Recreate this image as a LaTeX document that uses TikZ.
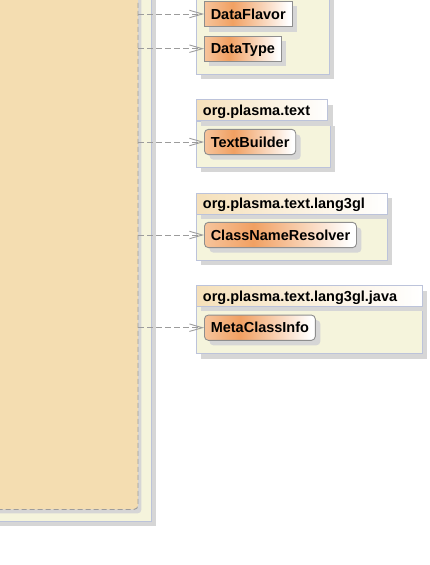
\documentclass[tikz,border=0pt]{standalone}
\usepackage{fontspec}
\setmainfont{Liberation Sans}
\usetikzlibrary{arrows.meta,shadows}
\definecolor{tanfill}{HTML}{F4DDB1}
\definecolor{pkgfill}{HTML}{F5F4DC}
\definecolor{pkgborder}{HTML}{BCC3DA}
\definecolor{shadowgray}{HTML}{D6D6D6}
\definecolor{dashgray}{HTML}{9C9C9C}
\definecolor{clsborder}{HTML}{8E8E8E}
\definecolor{clsA}{HTML}{F6C49C}
\definecolor{clsB}{HTML}{F1A062}
\definecolor{tabA}{HTML}{F5E0BA}
\pgfdeclarehorizontalshading{clsshade}{100bp}{color(0bp)=(clsA); color(25bp)=(clsA); color(41bp)=(clsB); color(73bp)=(white); color(100bp)=(white)}
\pgfdeclarehorizontalshading{tabshade}{100bp}{color(0bp)=(tabA); color(25bp)=(tabA); color(75bp)=(white); color(100bp)=(white)}
\tikzset{
  lbl/.style={font=\fontsize{14.5}{17}\selectfont\bfseries},
  shadowed/.style={general shadow={fill=shadowgray, shadow xshift=5pt, shadow yshift=-5pt}},
  clsbox/.style={lbl, shadowed, draw=clsborder, line width=0.9pt, shading=clsshade, anchor=west,
    inner xsep=6.3pt, inner ysep=0pt, minimum height=25.3pt, text height=10.5pt, text depth=0pt},
  roundcls/.style={clsbox, rounded corners=4pt},
  pkgtab/.style={lbl, shadowed, draw=pkgborder, line width=0.9pt, shading=tabshade, anchor=north west,
    inner xsep=6.5pt, inner ysep=0pt, minimum height=21pt, align=left, text height=10.5pt, text depth=0pt},
  pkgbody/.style={shadowed, draw=pkgborder, line width=0.9pt, fill=pkgfill, anchor=north west, inner sep=0pt},
  dep/.style={draw=dashgray, line width=0.9pt, dash pattern=on 6pt off 3pt, -{Straight Barb[length=13pt,width=7.5pt]}}
}
\begin{document}
\begin{tikzpicture}[x=1pt,y=-1pt]
\useasboundingbox (0,0) rectangle (429,565);
\begin{scope}
\clip (0,0) rectangle (429,565);
% outer package on the left
\node[pkgbody, minimum width=170.5pt, minimum height=540.5pt, shadow xshift=6pt, shadow yshift=-6pt] (outer) at (-20,-20) {};
% main tan element
\node[fill=tanfill, draw=dashgray, line width=0.9pt, dash pattern=on 5pt off 3pt, rounded corners=4pt,
  anchor=north west, inner sep=0pt, minimum width=157.5pt, minimum height=529pt,
  general shadow={fill=shadowgray, shadow xshift=3.5pt, shadow yshift=-4pt}] (main) at (-20,-20) {};

% package 1 (top, tab off-canvas)
\node[pkgbody, minimum width=132.7pt, minimum height=94pt] (p1) at (196,-20) {};
% package 2
\node[pkgbody, minimum width=134pt, minimum height=46pt] (p2) at (196,120.7) {};
\node[pkgtab, text width=118.3pt] (t2) at (196,99.3) {org.plasma.text};
% package 3
\node[pkgbody, minimum width=190.7pt, minimum height=46.7pt] (p3) at (196,213.3) {};
\node[pkgtab, text width=177.7pt] (t3) at (196,192.7) {org.plasma.text.lang3gl};
% package 4
\node[pkgbody, minimum width=225.7pt, minimum height=47.3pt] (p4) at (196,306) {};
\node[pkgtab, minimum height=20.7pt, text width=212.7pt] (t4) at (196,285.3) {org.plasma.text.lang3gl.java};

% classes
\node[clsbox] (df) at (204,14) {DataFlavor};
\node[clsbox] (dt) at (204,48.7) {DataType};
\node[roundcls] (tb) at (204,142) {TextBuilder};
\node[roundcls] (cnr) at (204,235) {ClassNameResolver};
\node[roundcls] (mci) at (204,327.7) {MetaClassInfo};

% dependencies
\draw[dep] (main.east |- df.west) -- (df.west);
\draw[dep] (main.east |- dt.west) -- (dt.west);
\draw[dep] (main.east |- tb.west) -- (tb.west);
\draw[dep] (main.east |- cnr.west) -- (cnr.west);
\draw[dep] (main.east |- mci.west) -- (mci.west);
\end{scope}
\end{tikzpicture}
\end{document}
